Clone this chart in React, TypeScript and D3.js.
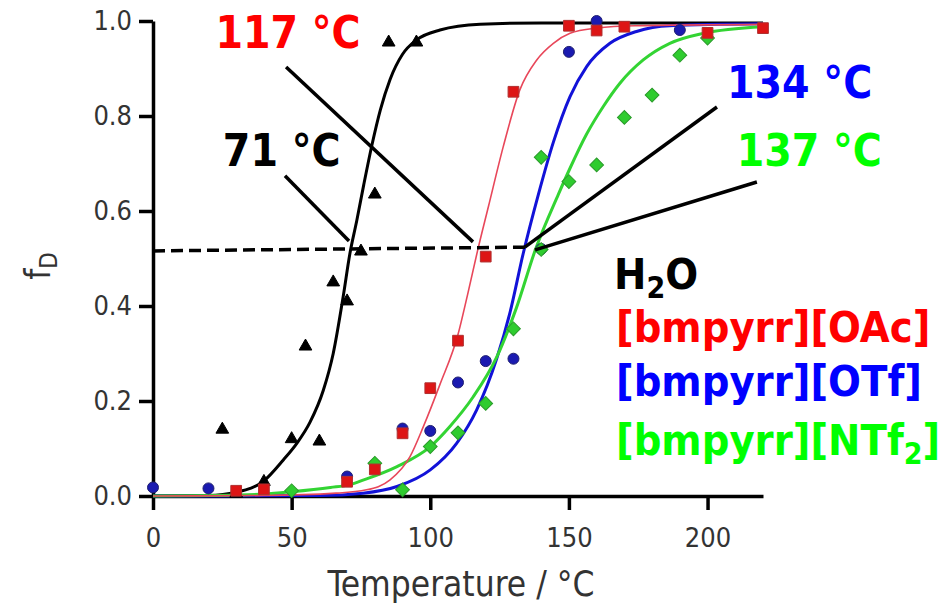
import React, { useRef, useEffect } from "react";
import * as d3 from "d3";

// measured points [temperature °C, fD]
const h2oPoints = [
  [25, 0.14], [30, 0.005], [40, 0.03], [50, 0.12], [55, 0.315], [60, 0.115],
  [65, 0.45], [70, 0.41], [75, 0.515], [80, 0.635], [85, 0.955], [95, 0.955],
];
const oacPoints = [
  [30, 0.011], [40, 0.014], [70, 0.03], [80, 0.056], [90, 0.132], [100, 0.227],
  [110, 0.327], [120, 0.504], [130, 0.851], [150, 0.99], [160, 0.98], [170, 0.988],
  [200, 0.975], [220, 0.985],
];
const otfPoints = [
  [0, 0.018], [20, 0.016], [70, 0.041], [90, 0.142], [100, 0.137], [110, 0.239],
  [120, 0.284], [130, 0.289], [140, 0.52], [150, 0.935], [160, 1.0], [190, 0.981],
];
const ntf2Points = [
  [50, 0.011], [80, 0.069], [90, 0.013], [100, 0.104], [110, 0.133], [120, 0.195],
  [130, 0.352], [140, 0.519], [140, 0.713], [150, 0.662], [160, 0.697], [170, 0.797],
  [180, 0.844], [190, 0.928], [200, 0.964],
];

// fitted curves
const h2oFit = [
  [0, 0], [20, 0.001], [30, 0.008], [40, 0.032], [47, 0.076], [52, 0.112],
  [56.6, 0.155], [61.4, 0.222], [65, 0.3], [68.6, 0.42], [71, 0.51], [73.5, 0.58],
  [76, 0.655], [79, 0.74], [82, 0.813], [85.5, 0.877], [90, 0.93], [95, 0.96],
  [103.5, 0.981], [118, 0.993], [140, 0.996], [220, 0.996],
];
const oacFit = [
  [0, 0], [40, 0.001], [66, 0.006], [77, 0.013], [85.5, 0.034], [92.7, 0.083],
  [97.5, 0.146], [103.5, 0.235], [110, 0.34], [113.5, 0.425], [117, 0.515],
  [121, 0.61], [126.3, 0.735], [132.3, 0.855], [138.4, 0.918], [144.4, 0.953],
  [150.4, 0.974], [160, 0.985], [174, 0.99], [220, 0.993],
];
const otfFit = [
  [0, 0], [60, 0.001], [75.8, 0.006], [88, 0.02], [100, 0.055], [109.5, 0.111],
  [116.7, 0.181], [124, 0.29], [128.7, 0.385], [133.5, 0.51], [139, 0.635],
  [144.4, 0.745], [150.4, 0.841], [156.4, 0.904], [164.8, 0.953], [174.4, 0.978],
  [186.4, 0.99], [220, 0.994],
];
const ntf2Fit = [
  [0, 0], [30, 0.002], [40, 0.004], [50, 0.009], [64, 0.018], [71, 0.024],
  [76, 0.034], [88, 0.062], [100, 0.104], [107, 0.146], [115.5, 0.209], [124, 0.293],
  [131, 0.395], [138, 0.52], [146.2, 0.635], [150.4, 0.69], [156.4, 0.762],
  [162.4, 0.82], [168.4, 0.869], [176.8, 0.918], [186.4, 0.953], [198.4, 0.974],
  [220, 0.988],
];

// half-conversion line and leader lines [x1, f1, x2, f2]
const halfLine = [0, 0.516, 136, 0.524];
const leaders = [
  [47.6, 0.674, 70.7, 0.537],
  [48, 0.903, 115.4, 0.535],
  [203.4, 0.819, 134.1, 0.524],
  [217.8, 0.661, 137.8, 0.518],
];
// T50 labels [text, x, f, colour]
const t50Labels = [
  ["71 °C", 25.2, 0.695, "#000000"],
  ["117 °C", 22.5, 0.943, "#ff0000"],
  ["134 °C", 207, 0.837, "#0000ff"],
  ["137 °C", 210.5, 0.695, "#00ff00"],
];

const xTicks = [0, 50, 100, 150, 200];
const yTicks = [0, 0.2, 0.4, 0.6, 0.8, 1.0];

const FONT = "'DejaVu Sans Condensed', 'DejaVu Sans', sans-serif";

const App = () => {
  const svgRef = useRef(null);

  useEffect(() => {
    const svg = d3.select(svgRef.current);
    svg.selectAll("*").remove();

    const width = 942;
    const height = 606;
    const margin = { top: 21, right: 179, bottom: 110, left: 153 };

    const x = d3.scaleLinear().domain([0, 220]).range([margin.left, width - margin.right]);
    const y = d3.scaleLinear().domain([0, 1]).range([height - margin.bottom, margin.top]);

    // x axis
    const gx = svg
      .append("g")
      .attr("transform", `translate(0,${y(0)})`)
      .call(d3.axisBottom(x).tickValues(xTicks).tickSize(14).tickSizeOuter(0).tickPadding(18));
    // y axis
    const gy = svg
      .append("g")
      .attr("transform", `translate(${x(0)},0)`)
      .call(
        d3.axisLeft(y).tickValues(yTicks).tickSize(14).tickSizeOuter(0).tickPadding(7)
          .tickFormat(d3.format(".1f"))
      );

    [gx, gy].forEach((g) => {
      g.select(".domain").attr("stroke", "#000").attr("stroke-width", 3.5);
      g.selectAll(".tick line").attr("stroke", "#000").attr("stroke-width", 3.5);
      g.selectAll(".tick text")
        .attr("fill", "#333")
        .style("font-family", FONT)
        .style("font-stretch", "condensed")
        .style("font-size", "27px");
    });

    // axis titles
    svg
      .append("text")
      .attr("x", 461)
      .attr("y", 596)
      .attr("text-anchor", "middle")
      .attr("fill", "#333")
      .style("font-family", FONT)
      .style("font-stretch", "condensed")
      .style("font-size", "35px")
      .text("Temperature / °C");

    const yl = svg
      .append("text")
      .attr("transform", "translate(50,266) rotate(-90)")
      .attr("text-anchor", "middle")
      .attr("fill", "#333")
      .style("font-family", FONT)
      .style("font-stretch", "condensed")
      .style("font-size", "35px");
    yl.append("tspan").text("f");
    yl.append("tspan").attr("dy", 7).style("font-size", "24px").text("D");

    // fitted curves
    const line = d3
      .line()
      .x((d) => x(d[0]))
      .y((d) => y(d[1]))
      .curve(d3.curveMonotoneX);

    const fits = [
      [h2oFit, "#000000", 3],
      [otfFit, "#1212d8", 3],
      [ntf2Fit, "#33d433", 3],
      [oacFit, "#e8475a", 1.6],
    ];
    fits.forEach(([data, colour, w]) => {
      svg
        .append("path")
        .datum(data)
        .attr("fill", "none")
        .attr("stroke", colour)
        .attr("stroke-width", w)
        .attr("d", line);
    });

    // markers
    const markers = [
      [h2oPoints, d3.symbolTriangle, 70, "#000000", "#000000", 0],
      [otfPoints, d3.symbolCircle, 95, "#1a1ab0", "#202070", 0],
      [ntf2Points, d3.symbolSquare, 95, "#2fcc2f", "#2a9a2a", 45],
      [oacPoints, d3.symbolSquare, 115, "#dd1515", "#b03030", 0],
    ];
    markers.forEach(([data, type, size, fill, stroke, rot]) => {
      svg
        .append("g")
        .selectAll("path")
        .data(data)
        .enter()
        .append("path")
        .attr("d", d3.symbol().type(type).size(size))
        .attr("transform", (d) => `translate(${x(d[0])},${y(d[1])}) rotate(${rot})`)
        .attr("fill", fill)
        .attr("stroke", stroke)
        .attr("stroke-width", 1);
    });

    // half-conversion dashed line
    svg
      .append("line")
      .attr("x1", x(halfLine[0]))
      .attr("y1", y(halfLine[1]))
      .attr("x2", x(halfLine[2]))
      .attr("y2", y(halfLine[3]))
      .attr("stroke", "#000")
      .attr("stroke-width", 3.5)
      .attr("stroke-dasharray", "12,6");

    // leader lines
    svg
      .append("g")
      .selectAll("line")
      .data(leaders)
      .enter()
      .append("line")
      .attr("x1", (d) => x(d[0]))
      .attr("y1", (d) => y(d[1]))
      .attr("x2", (d) => x(d[2]))
      .attr("y2", (d) => y(d[3]))
      .attr("stroke", "#000")
      .attr("stroke-width", 3.5);

    // T50 labels
    svg
      .append("g")
      .selectAll("text")
      .data(t50Labels)
      .enter()
      .append("text")
      .attr("x", (d) => x(d[1]))
      .attr("y", (d) => y(d[2]))
      .attr("fill", (d) => d[3])
      .style("font-family", FONT)
      .style("font-stretch", "condensed")
      .style("font-weight", "bold")
      .style("font-size", "44px")
      .text((d) => d[0]);

    // legend
    const legend = svg
      .append("g")
      .style("font-family", FONT)
      .style("font-stretch", "condensed")
      .style("font-weight", "bold")
      .style("font-size", "43px");

    const h2o = legend.append("text").attr("x", 614).attr("y", 289).attr("fill", "#000");
    h2o.append("tspan").text("H");
    h2o.append("tspan").attr("dy", 9).style("font-size", "30px").text("2");
    h2o.append("tspan").attr("dy", -9).text("O");

    legend.append("text").attr("x", 616).attr("y", 342).attr("fill", "#ff0000").text("[bmpyrr][OAc]");
    legend.append("text").attr("x", 616).attr("y", 396).attr("fill", "#0000ff").text("[bmpyrr][OTf]");

    const ntf = legend.append("text").attr("x", 616).attr("y", 455).attr("fill", "#00ff00");
    ntf.append("tspan").text("[bmpyrr][NTf");
    ntf.append("tspan").attr("dy", 9).style("font-size", "30px").text("2");
    ntf.append("tspan").attr("dy", -9).text("]");
  }, []);

  return (
    <svg
      ref={svgRef}
      width={942}
      height={606}
      style={{ position: "absolute", left: 0, top: 0, background: "#fff" }}
    ></svg>
  );
};

export default App;
